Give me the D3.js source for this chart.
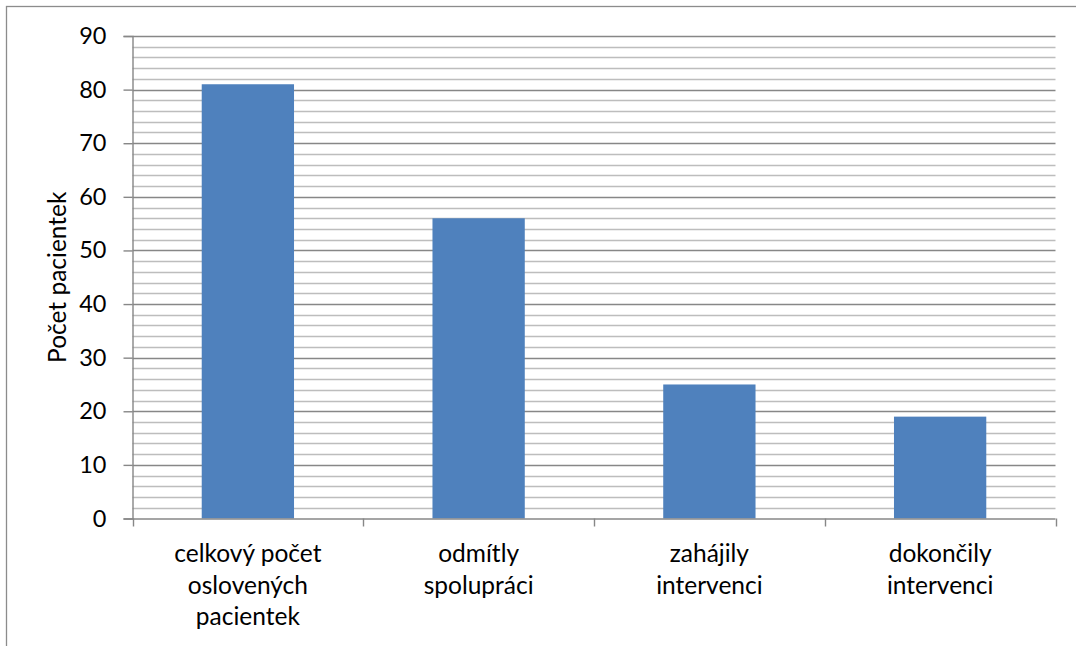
<!DOCTYPE html>
<html>
<head>
<meta charset="utf-8">
<script src="https://cdn.jsdelivr.net/npm/d3@7"></script>
<style>
  html, body { margin: 0; padding: 0; background: #fff; }
  svg { display: block; }
  text { font-family: Lato, "Open Sans", sans-serif; fill: #000; }
</style>
</head>
<body>
<svg id="chart" width="1076" height="646"></svg>
<script>
// Počet pacientek v jednotlivých fázích
const categories = [
  ["celkový počet", "oslovených", "pacientek"],
  ["odmítly", "spolupráci"],
  ["zahájily", "intervenci"],
  ["dokončily", "intervenci"]
];
const values = [81, 56, 25, 19];
const yTicks = [0, 10, 20, 30, 40, 50, 60, 70, 80, 90];
const yMinorTicks = [2, 4, 6, 8, 12, 14, 16, 18, 22, 24, 26, 28, 32, 34, 36, 38,
  42, 44, 46, 48, 52, 54, 56, 58, 62, 64, 66, 68, 72, 74, 76, 78, 82, 84, 86, 88];
const yTitle = "Počet pacientek";

const svg = d3.select("#chart");
const W = 1076, H = 646;
const plot = { left: 132.5, right: 1055.5, top: 36, bottom: 518.5 };

// outer chart frame (extends past the visible area on the right and bottom)
svg.append("rect")
  .attr("x", 6.5).attr("y", 6.5)
  .attr("width", W + 20).attr("height", H + 20)
  .attr("fill", "#fff").attr("stroke", "#8c8c8c").attr("stroke-width", 1.3);

const idx = d3.range(categories.length);
const x = d3.scaleBand()
  .domain(idx)
  .range([plot.left, plot.right])
  .paddingInner(0.6)
  .paddingOuter(0.3);
const xEdges = d3.scaleLinear()
  .domain([0, categories.length])
  .range([plot.left, plot.right]);
const y = d3.scaleLinear()
  .domain([0, 90])
  .range([plot.bottom, plot.top]);

// minor gridlines
svg.append("g")
  .selectAll("line")
  .data(yMinorTicks)
  .join("line")
  .attr("x1", plot.left).attr("x2", plot.right)
  .attr("y1", d => Math.round(y(d)) + 0.5).attr("y2", d => Math.round(y(d)) + 0.5)
  .attr("stroke", "#bdbdbd").attr("stroke-width", 1.4);

// major gridlines
svg.append("g")
  .selectAll("line")
  .data(yTicks.filter(d => d > 0))
  .join("line")
  .attr("x1", plot.left).attr("x2", plot.right)
  .attr("y1", d => Math.round(y(d)) + 0.5).attr("y2", d => Math.round(y(d)) + 0.5)
  .attr("stroke", "#878787").attr("stroke-width", 1.4);

// bars
svg.append("g")
  .selectAll("rect")
  .data(values)
  .join("rect")
  .attr("x", (d, i) => x(i))
  .attr("width", x.bandwidth())
  .attr("y", d => y(d))
  .attr("height", d => y(0) - y(d))
  .attr("fill", "#4f81bd");

// y axis
const yAxis = d3.axisLeft(y)
  .tickValues(yTicks)
  .tickSize(9)
  .tickPadding(17)
  .tickFormat(d3.format("d"));
const gy = svg.append("g")
  .attr("transform", `translate(${plot.left},0)`)
  .call(yAxis);
gy.select(".domain").attr("stroke", "#878787").attr("stroke-width", 1.4);
gy.selectAll(".tick line").attr("stroke", "#878787").attr("stroke-width", 1.4);
gy.selectAll(".tick text")
  .attr("font-family", "Lato, 'Open Sans', sans-serif")
  .attr("font-size", 23.5)
  .attr("fill", "#000");

// x axis line and category boundary ticks
svg.append("line")
  .attr("x1", plot.left).attr("x2", plot.right)
  .attr("y1", plot.bottom + 0.5).attr("y2", plot.bottom + 0.5)
  .attr("stroke", "#878787").attr("stroke-width", 1.4);
svg.append("g")
  .selectAll("line")
  .data(d3.range(categories.length + 1))
  .join("line")
  .attr("x1", d => Math.round(xEdges(d)) + 0.5).attr("x2", d => Math.round(xEdges(d)) + 0.5)
  .attr("y1", plot.bottom).attr("y2", plot.bottom + 8)
  .attr("stroke", "#878787").attr("stroke-width", 1.4);

// category labels
const lab = svg.append("g")
  .selectAll("text")
  .data(categories)
  .join("text")
  .attr("text-anchor", "middle")
  .attr("font-size", 24.5)
  .attr("x", (d, i) => x(i) + x.bandwidth() / 2)
  .attr("y", 562);
lab.selectAll("tspan")
  .data(d => d)
  .join("tspan")
  .attr("x", function () { return d3.select(this.parentNode).attr("x"); })
  .attr("dy", (d, i) => i === 0 ? 0 : 31.5)
  .text(d => d);

// y axis title
svg.append("text")
  .attr("transform", `translate(66,${(plot.top + plot.bottom) / 2}) rotate(-90)`)
  .attr("text-anchor", "middle")
  .attr("font-size", 24.5)
  .text(yTitle);
</script>
</body>
</html>
